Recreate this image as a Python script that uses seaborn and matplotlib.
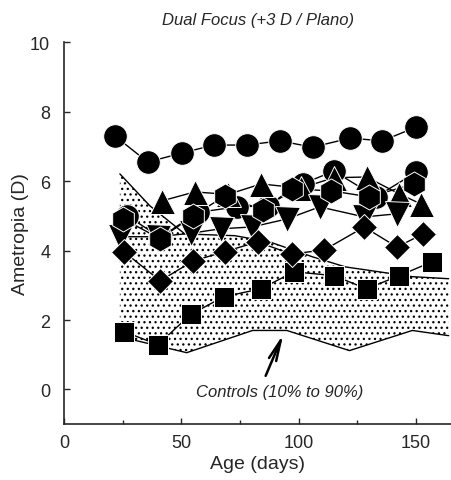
import matplotlib
matplotlib.use("Agg")
import matplotlib.pyplot as plt
import seaborn as sns
import numpy as np
import pandas as pd
from matplotlib.ticker import MultipleLocator

# ---- data ----
circle1_age = [21.7, 35.7, 50.2, 63.8, 77.9, 91.9, 106, 122, 135.7, 150.2]
circle1_val = [7.30, 6.55, 6.81, 7.04, 7.04, 7.16, 6.98, 7.24, 7.16, 7.56]

circle2_age = [27, 41, 57, 73.6, 87, 101.7, 115, 133, 150]
circle2_val = [5.00, 4.38, 5.10, 5.26, 5.29, 5.92, 6.29, 5.55, 6.25]

tri_up_age = [41.6, 55.7, 70, 84, 101, 115, 129, 143, 152]
tri_up_val = [5.43, 5.69, 5.62, 5.92, 5.80, 6.10, 6.12, 5.63, 5.35]

tri_dn_age = [24, 40, 54, 67, 80, 95, 109, 128, 142]
tri_dn_val = [4.40, 4.40, 4.50, 4.63, 4.68, 4.91, 5.26, 4.97, 5.06]

hex_age = [25, 41, 55, 68.5, 84.7, 97, 114, 130, 149.4]
hex_val = [4.92, 4.34, 5.00, 5.57, 5.17, 5.78, 5.72, 5.55, 5.92]

diamond_age = [25.5, 41, 55, 68.5, 82.5, 97, 111, 128, 142, 153]
diamond_val = [3.97, 3.13, 3.70, 3.97, 4.25, 3.90, 4.02, 4.68, 4.10, 4.48]

square_age = [25.5, 40, 54, 68, 84, 98, 115, 129, 143, 157]
square_val = [1.67, 1.29, 2.16, 2.67, 2.90, 3.39, 3.28, 2.90, 3.28, 3.68]

ctrl_hi_age = [23.8, 36.6, 51.5, 72.8, 87.7, 106, 120, 148.5, 164]
ctrl_hi_val = [6.21, 5.29, 4.48, 4.43, 4.25, 3.82, 3.53, 3.25, 3.19]
ctrl_lo_age = [23.8, 52.3, 80.4, 95, 121.7, 148.5, 164]
ctrl_lo_val = [1.52, 1.06, 1.70, 1.70, 1.12, 1.70, 1.55]

title = "Dual Focus (+3 D / Plano)"
xlabel = "Age (days)"
ylabel = "Ametropia (D)"
annot = "Controls (10% to 90%)"

# ---- style ----
sns.set_style("ticks")
plt.rcParams['font.family'] = ['Liberation Sans', 'DejaVu Sans']

fig = plt.figure(figsize=(4.51, 4.81), dpi=100)
ax = fig.add_axes([0.142, 0.116, 0.858, 0.794])

# control band
grid = np.linspace(23.8, 164, 400)
hi = np.interp(grid, ctrl_hi_age, ctrl_hi_val)
lo = np.interp(grid, ctrl_lo_age, ctrl_lo_val)
plt.rcParams['hatch.linewidth'] = 0.9
ax.fill_between(grid, lo, hi, facecolor='white', edgecolor='black', hatch='...',
                linewidth=0, zorder=1)
sns.lineplot(x=ctrl_hi_age, y=ctrl_hi_val, ax=ax, color='black', lw=1.0,
             sort=False, estimator=None, zorder=2)
sns.lineplot(x=ctrl_lo_age, y=ctrl_lo_val, ax=ax, color='black', lw=1.0,
             sort=False, estimator=None, zorder=2)

series = [
    (circle1_age, circle1_val, 'o', 17),
    (circle2_age, circle2_val, 'o', 17),
    (tri_up_age, tri_up_val, '^', 18),
    (tri_dn_age, tri_dn_val, 'v', 18),
    (hex_age, hex_val, 'h', 18),
    (square_age, square_val, 's', 15),
    (diamond_age, diamond_val, 'D', 13.5),
]

# lines first
for a, v, m, ms in series:
    sns.lineplot(x=a, y=v, ax=ax, color='black', lw=1.0, sort=False,
                 estimator=None, zorder=3)
# markers on top
for i, (a, v, m, ms) in enumerate(series):
    sns.lineplot(x=a, y=v, ax=ax, color='black', lw=0, marker=m, markersize=ms,
                 markeredgecolor='white', markeredgewidth=0.7, sort=False,
                 estimator=None, zorder=4 + i)

ax.annotate("", xy=(94, 1.67), xytext=(85.5, 0.32),
            arrowprops=dict(arrowstyle='->,head_length=1.5,head_width=0.28',
                            color='black', lw=1.8), zorder=20)
ax.text(92, -0.06, annot, ha='center', va='center', fontsize=12,
        style='italic', zorder=20)

ax.set_xlim(0, 165)
ax.set_ylim(-1, 10)
ax.xaxis.set_major_locator(MultipleLocator(50))
ax.xaxis.set_minor_locator(MultipleLocator(25))
ax.yaxis.set_major_locator(MultipleLocator(2))
ax.tick_params(axis='both', which='major', direction='in', length=4, width=1,
               labelsize=13)
ax.tick_params(axis='x', which='major', pad=7)
ax.tick_params(axis='y', which='major', pad=10)
ax.tick_params(axis='both', which='minor', direction='in', length=3, width=1)
for s in ['top', 'right']:
    ax.spines[s].set_visible(False)
for s in ['left', 'bottom']:
    ax.spines[s].set_linewidth(1.2)
ax.set_xlabel(xlabel, fontsize=14, labelpad=3)
ax.set_ylabel(ylabel, fontsize=14, labelpad=1)
ax.set_title(title, fontsize=12, style='italic', pad=13)

fig.savefig("out.png", dpi=100)
